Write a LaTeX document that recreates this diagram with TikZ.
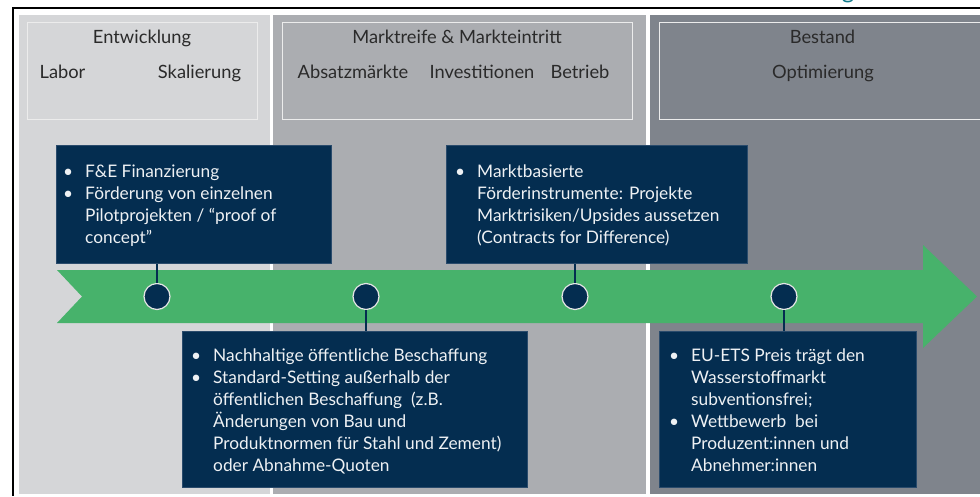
\documentclass[tikz,border=0pt]{standalone}
\usepackage{fontspec}
\setmainfont{Lato}
\definecolor{navy}{HTML}{042D50}
\definecolor{navyedge}{HTML}{2A4B6C}
\definecolor{arrowgreen}{HTML}{47B26B}
\definecolor{panelA}{HTML}{D5D6D8}
\definecolor{panelB}{HTML}{ABADB1}
\definecolor{panelC}{HTML}{7F848C}
\definecolor{headtext}{HTML}{2A2A2A}
\definecolor{boxtext}{HTML}{EEF1F4}
\definecolor{teal}{HTML}{137C8C}
\tikzset{
  panel/.style={draw=none, inner sep=0pt, outer sep=0pt, anchor=north west},
  headbox/.style={draw=white!85!gray, line width=0.8pt, inner sep=0pt, anchor=north west},
  headtxt/.style={text=headtext, font=\fontsize{18.3}{22}\selectfont, anchor=base, inner sep=0pt},
  navybox/.style={fill=navy, draw=navyedge, line width=0.6pt, inner sep=0pt, anchor=north west},
  bodytxt/.style={text=boxtext, font=\fontsize{17.3}{22}\selectfont, anchor=north west, inner sep=0pt, align=left},
  dot/.style={circle, fill=navy, draw=white!80!gray, line width=1.2pt, minimum size=26pt, inner sep=0pt},
  stem/.style={draw=navy, line width=2.6pt}
}
\newcommand{\bl}{\makebox[22pt][l]{\textbullet}}
\newcommand{\nb}{\hspace*{22pt}}
\begin{document}
\begin{tikzpicture}[x=1pt,y=-1pt]
\useasboundingbox (0,0) rectangle (980,496);
\fill[white] (0,0) rectangle (980,496);
% clipped title descender
\begin{scope}
\clip (820,0) rectangle (880,6.5);
\node[text=teal, font=\fontsize{24}{24}\selectfont, anchor=base, inner sep=0pt] (title) at (848,-2) {g};
\end{scope}
% frame
\draw[black, line width=2pt] (980,7.5) -- (13,7.5) -- (13,496);
% panels
\node[panel, fill=panelA, minimum width=251pt, minimum height=479pt] (pA) at (19,15) {};
\node[panel, fill=panelB, minimum width=373pt, minimum height=479pt] (pB) at (273,15) {};
\node[panel, fill=panelC, minimum width=330pt, minimum height=479pt] (pC) at (650,15) {};
% header boxes
\node[headbox, minimum width=230pt, minimum height=97pt] (hA) at (27,21.5) {};
\node[headbox, minimum width=350pt, minimum height=97pt] (hB) at (282,21.5) {};
\node[headbox, minimum width=330pt, minimum height=97pt] (hC) at (659,21.5) {};
% header texts
\node[headtxt] (entw) at (142,43) {Entwicklung};
\node[headtxt] (labor) at (62.5,78.5) {Labor};
\node[headtxt] (skal) at (199.5,78.5) {Skalierung};
\node[headtxt] (markt) at (457,43) {Marktreife \& Markteintritt};
\node[headtxt] (absatz) at (353,78.5) {Absatzmärkte};
\node[headtxt] (invest) at (482,78.5) {Investitionen};
\node[headtxt] (betrieb) at (580,78.5) {Betrieb};
\node[headtxt] (bestand) at (822.5,43) {Bestand};
\node[headtxt] (optim) at (823,78.5) {Optimierung};
% arrow
\fill[arrowgreen] (57,270) -- (923,270) -- (923,245) -- (977,296.5) -- (923,348) -- (923,323) -- (57,323) -- (82,296.5) -- cycle;
% navy boxes
\node[navybox, minimum width=275pt, minimum height=118pt] (b1) at (56,145) {};
\node[navybox, minimum width=301pt, minimum height=118pt] (b2) at (446,145) {};
\node[navybox, minimum width=345pt, minimum height=156pt] (b3) at (182,331) {};
\node[navybox, minimum width=257pt, minimum height=156pt] (b4) at (659,331) {};
% circles
\node[dot] (c1) at (157,296.5) {};
\node[dot] (c2) at (366,296.5) {};
\node[dot] (c3) at (575,296.5) {};
\node[dot] (c4) at (784,296.5) {};
% stems
\draw[stem] (c1.north) -- (c1 |- b1.south);
\draw[stem] (c2.south) -- (c2 |- b3.north);
\draw[stem] (c3.north) -- (c3 |- b2.south);
\draw[stem] (c4.south) -- (c4 |- b4.north);
% box texts
\node[bodytxt] (t1) at (63,161.6) {\strut\bl F\&E Finanzierung\\\bl Förderung von einzelnen\\\nb Pilotprojekten / “proof of\\\nb concept”};
\node[bodytxt] (t2) at (455,161.6) {\strut\bl Marktbasierte\\\nb Förderinstrumente: Projekte\\\nb Marktrisiken/Upsides aussetzen\\\nb (Contracts for Difference)};
\node[bodytxt] (t3) at (191,345.6) {\strut\bl Nachhaltige öffentliche Beschaffung\\\bl Standard-Setting außerhalb der\\\nb öffentlichen Beschaffung\ \ (z.B.\\\nb Änderungen von Bau und\\\nb Produktnormen für Stahl und Zement)\\\nb oder Abnahme-Quoten};
\node[bodytxt] (t4) at (669,345.6) {\strut\bl EU-ETS Preis trägt den\\\nb Wasserstoffmarkt\\\nb subventionsfrei;\\\bl Wettbewerb\ \ bei\\\nb Produzent:innen und\\\nb Abnehmer:innen};
\end{tikzpicture}
\end{document}
